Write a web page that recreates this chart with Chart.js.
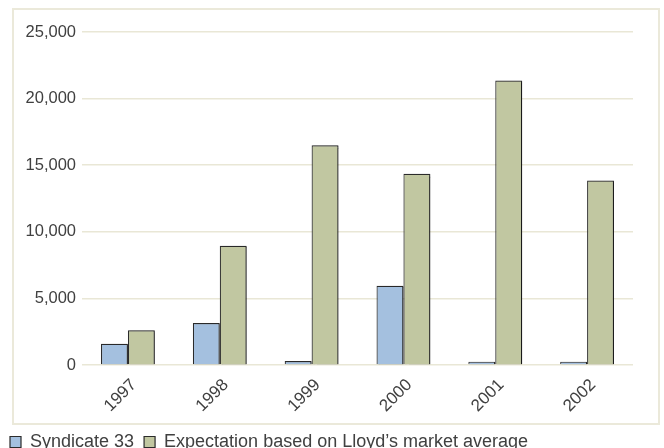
<!DOCTYPE html>
<html>
<head>
<meta charset="utf-8">
<script src="https://cdn.jsdelivr.net/npm/chart.js@4/dist/chart.umd.min.js"></script>
<style>
  html, body { margin: 0; padding: 0; background: #fff; }
  #wrap { width: 664px; height: 448px; }
</style>
</head>
<body>
<div id="wrap"><canvas id="results"></canvas></div>
<script>
const years = ["1997", "1998", "1999", "2000", "2001", "2002"];
const syndicate33 = [1600, 3150, 300, 5950, 250, 250];
const lloydsExpectation = [2600, 8950, 16500, 14350, 21350, 13850];
const yTicks = [0, 5000, 10000, 15000, 20000, 25000];

const blue = "#a4c0df";
const green = "#c1c7a1";
const edge = "#2b2b2b";
const gridColor = "#e9e7d6";
const textColor = "#404040";

// light frame around the plot panel
const framePlugin = {
  id: "frame",
  beforeDraw(chart) {
    const ctx = chart.ctx;
    ctx.save();
    ctx.strokeStyle = "#ebe9da";
    ctx.lineWidth = 2;
    ctx.strokeRect(13, 9, 646, 415);
    ctx.restore();
  },
};

// small drop shadow on the bars
const barShadow = {
  id: "barShadow",
  beforeDatasetsDraw(chart) {
    const ctx = chart.ctx;
    ctx.save();
    ctx.shadowColor = "rgba(0, 0, 0, 0.4)";
    ctx.shadowOffsetX = 1.5;
    ctx.shadowOffsetY = 0.5;
    ctx.shadowBlur = 1;
  },
  afterDatasetsDraw(chart) {
    chart.ctx.restore();
  },
};

Chart.defaults.font.family = "'Liberation Sans', Arial, sans-serif";
Chart.defaults.color = textColor;

new Chart(document.getElementById("results").getContext("2d"), {
  type: "bar",
  data: {
    labels: years,
    datasets: [
      {
        label: "Syndicate 33",
        data: syndicate33,
        backgroundColor: blue,
        borderColor: edge,
        borderWidth: 1.2,
        categoryPercentage: 0.586,
        barPercentage: 1,
      },
      {
        label: "Expectation based on Lloyd\u2019s market average",
        data: lloydsExpectation,
        backgroundColor: green,
        borderColor: edge,
        borderWidth: 1.2,
        categoryPercentage: 0.586,
        barPercentage: 1,
      },
    ],
  },
  options: {
    responsive: true,
    maintainAspectRatio: false,
    animation: false,
    layout: {
      // legend sits low, close to the bottom edge
      padding: { top: 32, right: 31, left: 0, bottom: -13 },
    },
    scales: {
      x: {
        grid: { display: false },
        border: { display: false },
        ticks: {
          minRotation: 45,
          maxRotation: 45,
          padding: 2,
          labelOffset: 6,
          font: { size: 17 },
          color: textColor,
        },
        afterFit(scale) {
          scale.height = 58;
        },
      },
      y: {
        min: 0,
        max: 25000,
        afterBuildTicks(scale) {
          scale.ticks = yTicks.map((v) => ({ value: v }));
        },
        grid: {
          color: gridColor,
          lineWidth: 1.5,
          drawTicks: false,
        },
        border: { display: false },
        ticks: {
          padding: 6,
          font: { size: 16.5 },
          color: textColor,
          callback: (v) => v.toLocaleString("en-US"),
        },
        afterFit(scale) {
          scale.width = 82;
        },
      },
    },
    plugins: {
      legend: {
        display: true,
        position: "bottom",
        align: "start",
        labels: {
          boxWidth: 11,
          boxHeight: 11,
          padding: 10,
          font: { size: 18 },
          color: textColor,
        },
      },
      tooltip: { enabled: false },
    },
  },
  plugins: [framePlugin, barShadow],
});
</script>
</body>
</html>
